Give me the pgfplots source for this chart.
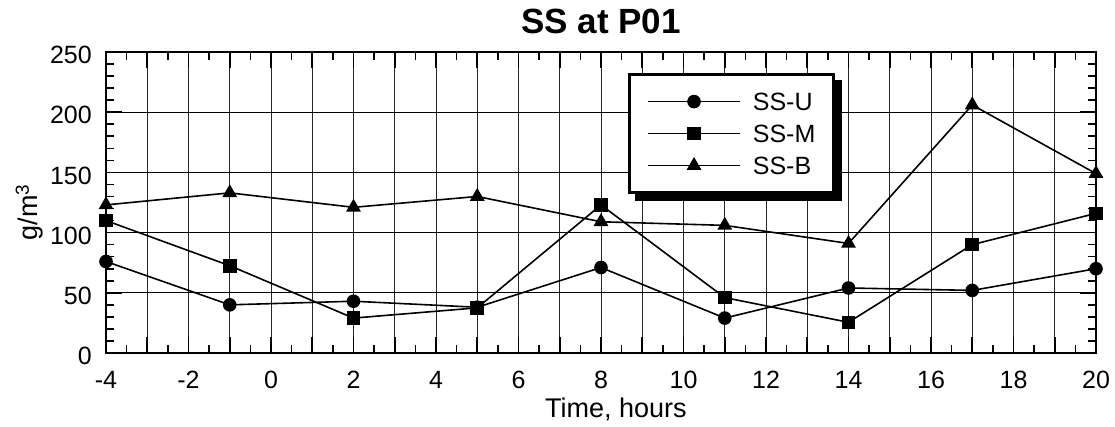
\documentclass[border=0pt]{standalone}
\usepackage{fontspec}
\setmainfont{Liberation Sans}
\usepackage{pgfplots}
\pgfplotsset{compat=1.18}
\begin{document}
\begin{tikzpicture}
\begin{axis}[
  name=ax,
  scale only axis, width=990pt, height=301pt,
  xmin=-4, xmax=20, ymin=0, ymax=250,
  clip=false,
  axis line style={line width=2.2pt},
  xtick={-4,-3,...,20},
  xticklabels={-4,,-2,,0,,2,,4,,6,,8,,10,,12,,14,,16,,18,,20},
  minor x tick num=1,
  ytick={0,50,...,250}, minor y tick num=4,
  tick align=inside, major tick length=16pt, minor tick length=8pt,
  every tick/.style={black, line width=1.6pt},
  xmajorgrids, ymajorgrids,
  major x grid style={black!85, line width=0.8pt},
  major y grid style={black, line width=1.3pt},
  /pgf/number format/assume math mode=true,
  ticklabel style={font=\fontsize{25}{30}\selectfont},
  xticklabel style={anchor=base, yshift=-35pt},
  yticklabel style={anchor=east, inner sep=0pt, xshift=-14pt, yshift=-3pt},
  title={SS at P01},
  title style={font=\fontsize{35}{42}\selectfont\bfseries, at={(0.5,1)}, anchor=base, yshift=12pt},
  xlabel={Time, hours},
  xlabel style={font=\fontsize{27}{32}\selectfont, at={(axis description cs:0.515,0)}, anchor=base, yshift=-64pt},
  ylabel={g/m\textsuperscript{3}},
  ylabel style={font=\fontsize{27}{32}\selectfont, at={(axis description cs:-0.0687,0.468)}, anchor=base},
  legend image code/.code={\draw[mark repeat=2,mark phase=2,#1] plot coordinates {(0pt,0pt)(46pt,0pt)(92pt,0pt)};},
  legend cell align=left,
  legend style={name=leg, at={(0.527,0.930)}, anchor=north west, draw=black, line width=3pt, fill=white,
    inner xsep=18pt, inner ysep=18pt, row sep=14pt, column sep=12pt,
    font=\fontsize{25}{30}\selectfont,
    nodes={inner xsep=0pt, inner ysep=0pt, text height=18pt, text depth=0pt},
    every node/.append style={}},
  legend entries={SS-U\hspace{5pt},SS-M\hspace{5pt},SS-B\hspace{5pt}},
]
\addplot[black, line width=1.6pt, mark=*, mark size=6pt, mark options={solid}] coordinates {
  (-4,76) (-1,40) (2,43) (5,38) (8,71) (11,29) (14,54) (17,52) (20,70)};
\addplot[black, line width=1.6pt, mark=square*, mark size=6pt, mark options={solid}] coordinates {
  (-4,110) (-1,72.5) (2,29) (5,37.5) (8,123) (11,46) (14,25.5) (17,90) (20,116)};
\addplot[black, line width=1.6pt, mark=triangle*, mark size=7pt, mark options={solid}] coordinates {
  (-4,123) (-1,133) (2,121) (5,130) (8,109) (11,106) (14,91) (17,206) (20,149)};
\end{axis}
\fill[black] ([xshift=7pt]leg.south west) rectangle ([shift={(7pt,-7pt)}]leg.south east);
\fill[black] ([yshift=-7pt]leg.north east) rectangle ([shift={(7pt,-7pt)}]leg.south east);
\pgfresetboundingbox
\path[use as bounding box] ([shift={(-106pt,-73pt)}]ax.south west) rectangle ([shift={(19pt,52pt)}]ax.north east);
\end{tikzpicture}
\end{document}
